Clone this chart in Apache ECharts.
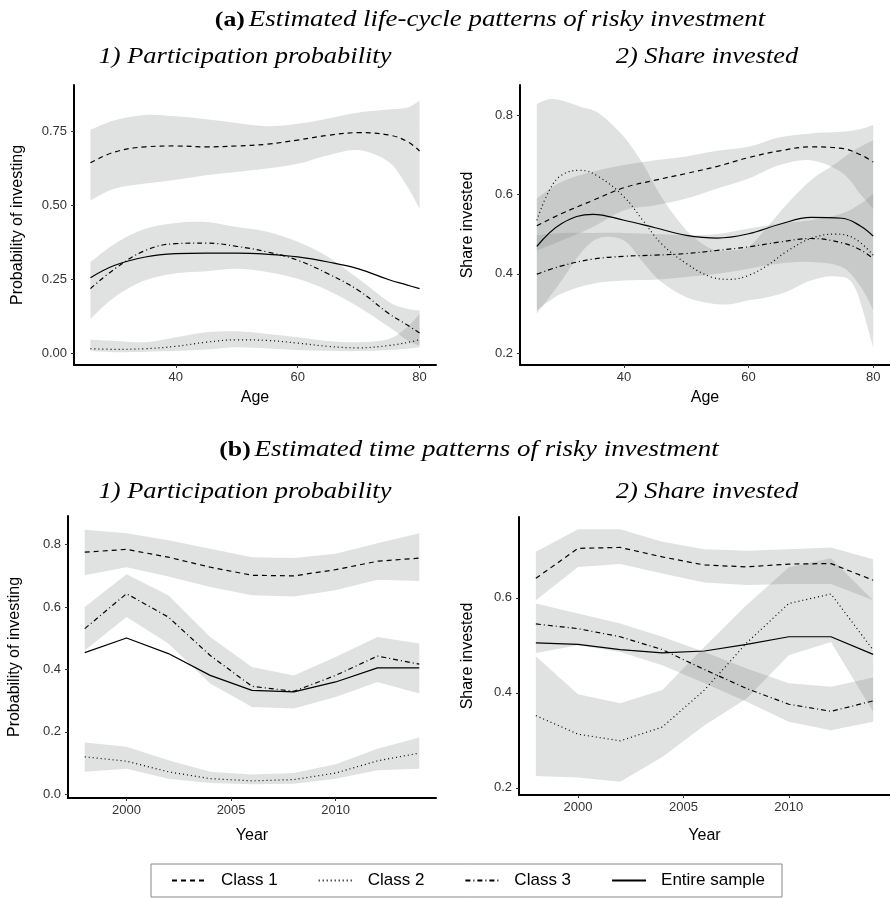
<!DOCTYPE html>
<html>
<head>
<meta charset="utf-8">
<script src="https://cdn.jsdelivr.net/npm/echarts@6/dist/echarts.min.js"></script>
<style>
html, body { margin: 0; padding: 0; background: #fff; }
#main { width: 890px; height: 898px; }
</style>
</head>
<body>
<div id="main"></div>
<script>
// (a) life-cycle patterns, x = age
var ageA = [26, 30, 35, 40, 45, 50, 55, 60, 65, 70, 75, 78, 80];

// 1) participation probability
var a1Class1 = [0.643, 0.68, 0.697, 0.70, 0.697, 0.70, 0.706, 0.72, 0.736, 0.745, 0.737, 0.715, 0.683];
var a1Class1Hi = [0.755, 0.787, 0.805, 0.80, 0.79, 0.778, 0.767, 0.775, 0.793, 0.813, 0.823, 0.83, 0.853];
var a1Class1Lo = [0.516, 0.556, 0.573, 0.586, 0.601, 0.612, 0.624, 0.64, 0.669, 0.686, 0.645, 0.562, 0.488];
var a1Class2 = [0.015, 0.013, 0.015, 0.023, 0.037, 0.045, 0.043, 0.034, 0.023, 0.018, 0.026, 0.036, 0.045];
var a1Class2Hi = [0.045, 0.041, 0.037, 0.054, 0.071, 0.074, 0.065, 0.054, 0.041, 0.037, 0.048, 0.088, 0.133];
var a1Class2Lo = [0.007, 0.003, 0.005, 0.007, 0.012, 0.02, 0.016, 0.011, 0.008, 0.007, 0.011, 0.015, 0.02];
var a1Class3 = [0.218, 0.285, 0.347, 0.37, 0.372, 0.361, 0.342, 0.314, 0.268, 0.212, 0.133, 0.095, 0.068];
var a1Class3Hi = [0.308, 0.37, 0.42, 0.44, 0.443, 0.426, 0.41, 0.376, 0.325, 0.251, 0.173, 0.15, 0.144];
var a1Class3Lo = [0.116, 0.19, 0.246, 0.27, 0.277, 0.285, 0.274, 0.251, 0.212, 0.156, 0.088, 0.043, 0.026];
var a1All = [0.255, 0.297, 0.325, 0.336, 0.338, 0.338, 0.334, 0.325, 0.308, 0.285, 0.248, 0.23, 0.218];

// 2) share invested
var a2Class1 = [0.521, 0.552, 0.585, 0.617, 0.636, 0.653, 0.671, 0.693, 0.71, 0.72, 0.716, 0.70, 0.682];
var a2Class1Hi = [0.59, 0.632, 0.657, 0.674, 0.686, 0.696, 0.71, 0.72, 0.744, 0.754, 0.758, 0.765, 0.775];
var a2Class1Lo = [0.459, 0.484, 0.518, 0.56, 0.573, 0.59, 0.615, 0.64, 0.674, 0.686, 0.655, 0.60, 0.564];
var a2Class3 = [0.399, 0.42, 0.437, 0.444, 0.447, 0.451, 0.459, 0.468, 0.48, 0.489, 0.478, 0.46, 0.438];
var a2Class3Hi = [0.497, 0.503, 0.503, 0.503, 0.50, 0.497, 0.50, 0.514, 0.527, 0.535, 0.552, 0.577, 0.602];
var a2Class3Lo = [0.308, 0.35, 0.375, 0.383, 0.385, 0.392, 0.40, 0.413, 0.426, 0.43, 0.417, 0.367, 0.308];
var a2All = [0.469, 0.527, 0.55, 0.535, 0.516, 0.497, 0.49, 0.501, 0.525, 0.542, 0.54, 0.52, 0.495];
var ageA2c2 = [26, 28, 30, 33, 36, 40, 43, 46, 50, 54, 57, 60, 63, 66, 70, 74, 77, 80];
var a2Class2 = [0.535, 0.61, 0.649, 0.661, 0.644, 0.594, 0.535, 0.476, 0.426, 0.392, 0.386, 0.396, 0.421, 0.455, 0.489, 0.50, 0.489, 0.447];
var a2Class2Hi = [0.828, 0.84, 0.837, 0.821, 0.804, 0.745, 0.678, 0.594, 0.51, 0.463, 0.459, 0.468, 0.518, 0.573, 0.636, 0.678, 0.712, 0.737];
var a2Class2Lo = [0.30, 0.341, 0.383, 0.451, 0.49, 0.484, 0.43, 0.379, 0.341, 0.325, 0.323, 0.333, 0.341, 0.354, 0.383, 0.393, 0.367, 0.215];

// (b) time patterns, x = year
var yearB = [1998, 2000, 2002, 2004, 2006, 2008, 2010, 2012, 2014];

var b1Class1 = [0.776, 0.785, 0.76, 0.728, 0.702, 0.70, 0.72, 0.747, 0.757];
var b1Class1Hi = [0.848, 0.837, 0.814, 0.787, 0.76, 0.757, 0.771, 0.805, 0.837];
var b1Class1Lo = [0.702, 0.728, 0.698, 0.664, 0.638, 0.634, 0.654, 0.688, 0.684];
var b1Class2 = [0.12, 0.106, 0.072, 0.05, 0.043, 0.047, 0.068, 0.107, 0.132];
var b1Class2Hi = [0.166, 0.152, 0.109, 0.072, 0.063, 0.068, 0.096, 0.146, 0.182];
var b1Class2Lo = [0.072, 0.082, 0.05, 0.036, 0.032, 0.034, 0.05, 0.077, 0.082];
var b1Class3 = [0.531, 0.643, 0.568, 0.445, 0.346, 0.33, 0.381, 0.443, 0.417];
var b1Class3Hi = [0.60, 0.705, 0.638, 0.504, 0.408, 0.381, 0.44, 0.504, 0.483];
var b1Class3Lo = [0.461, 0.568, 0.483, 0.355, 0.28, 0.275, 0.312, 0.36, 0.323];
var b1All = [0.454, 0.501, 0.451, 0.381, 0.333, 0.328, 0.36, 0.405, 0.405];

var b2Class1 = [0.641, 0.704, 0.706, 0.686, 0.669, 0.665, 0.671, 0.672, 0.637];
var b2Class1Hi = [0.697, 0.744, 0.744, 0.718, 0.702, 0.699, 0.702, 0.706, 0.681];
var b2Class1Lo = [0.595, 0.665, 0.671, 0.651, 0.632, 0.627, 0.629, 0.629, 0.595];
var b2Class2 = [0.352, 0.313, 0.299, 0.328, 0.406, 0.505, 0.588, 0.608, 0.49];
var b2Class2Hi = [0.477, 0.397, 0.378, 0.406, 0.497, 0.585, 0.664, 0.683, 0.595];
var b2Class2Lo = [0.225, 0.222, 0.213, 0.265, 0.332, 0.388, 0.479, 0.507, 0.36];
var b2Class3 = [0.545, 0.535, 0.518, 0.491, 0.449, 0.409, 0.376, 0.361, 0.383];
var b2Class3Hi = [0.588, 0.567, 0.546, 0.518, 0.486, 0.451, 0.42, 0.413, 0.432];
var b2Class3Lo = [0.484, 0.50, 0.486, 0.458, 0.42, 0.381, 0.339, 0.321, 0.339];
var b2All = [0.505, 0.502, 0.491, 0.484, 0.488, 0.502, 0.518, 0.518, 0.481];

var legendNames = ['Class 1', 'Class 2', 'Class 3', 'Entire sample'];
var ageTicks = [40, 60, 80];
var yearTicks = [2000, 2005, 2010];

var SANS = '"Liberation Sans", Arial, sans-serif';
var SERIF = '"Liberation Serif", serif';
var BAND = 'rgba(120,124,124,0.23)';
var dashes = {
    'Class 1': [5, 4],
    'Class 2': [1, 3],
    'Class 3': [5, 3, 1, 3],
    'Entire sample': 'solid'
};

function pairs(xs, ys) {
    return xs.map(function (x, i) { return [x, ys[i]]; });
}

// catmull-rom through pixel points, continuing an open path
function curveTo(pts) {
    var d = '';
    for (var i = 0; i < pts.length - 1; i++) {
        var p0 = pts[Math.max(i - 1, 0)], p1 = pts[i], p2 = pts[i + 1], p3 = pts[Math.min(i + 2, pts.length - 1)];
        var c1 = [p1[0] + (p2[0] - p0[0]) / 6, p1[1] + (p2[1] - p0[1]) / 6];
        var c2 = [p2[0] - (p3[0] - p1[0]) / 6, p2[1] - (p3[1] - p1[1]) / 6];
        d += ' C' + c1[0] + ',' + c1[1] + ' ' + c2[0] + ',' + c2[1] + ' ' + p2[0] + ',' + p2[1];
    }
    return d;
}

function lineTo(pts) {
    var d = '';
    for (var i = 1; i < pts.length; i++) d += ' L' + pts[i][0] + ',' + pts[i][1];
    return d;
}

var series = [];

function addBand(idx, xs, lo, hi, smooth) {
    var rows = xs.map(function (x, i) { return [x, lo[i], hi[i]]; });
    series.push({
        type: 'custom', xAxisIndex: idx, yAxisIndex: idx, silent: true, z: 1,
        data: rows,
        encode: { x: 0, y: [1, 2] },
        renderItem: function (params, api) {
            if (params.dataIndex !== 0) return null;
            var up = rows.map(function (r) { return api.coord([r[0], r[2]]); });
            var dn = rows.map(function (r) { return api.coord([r[0], r[1]]); }).reverse();
            var d = 'M' + up[0][0] + ',' + up[0][1];
            d += smooth ? curveTo(up) : lineTo(up);
            d += ' L' + dn[0][0] + ',' + dn[0][1];
            d += smooth ? curveTo(dn) : lineTo(dn);
            d += ' Z';
            return { type: 'path', shape: { pathData: d }, style: { fill: BAND, stroke: null } };
        }
    });
}

function addLine(idx, name, xs, ys, smooth) {
    series.push({
        name: name, type: 'line', xAxisIndex: idx, yAxisIndex: idx,
        data: pairs(xs, ys), symbol: 'none', smooth: smooth, z: 3,
        lineStyle: { color: '#000', width: 1.2, type: dashes[name] },
        itemStyle: { color: '#000' }
    });
}

// bands
addBand(0, ageA, a1Class1Lo, a1Class1Hi, true);
addBand(0, ageA, a1Class2Lo, a1Class2Hi, true);
addBand(0, ageA, a1Class3Lo, a1Class3Hi, true);
addBand(1, ageA, a2Class1Lo, a2Class1Hi, true);
addBand(1, ageA2c2, a2Class2Lo, a2Class2Hi, true);
addBand(1, ageA, a2Class3Lo, a2Class3Hi, true);
addBand(2, yearB, b1Class1Lo, b1Class1Hi, false);
addBand(2, yearB, b1Class2Lo, b1Class2Hi, false);
addBand(2, yearB, b1Class3Lo, b1Class3Hi, false);
addBand(3, yearB, b2Class1Lo, b2Class1Hi, false);
addBand(3, yearB, b2Class2Lo, b2Class2Hi, false);
addBand(3, yearB, b2Class3Lo, b2Class3Hi, false);

// lines
addLine(0, 'Class 1', ageA, a1Class1, 0.4);
addLine(0, 'Class 2', ageA, a1Class2, 0.4);
addLine(0, 'Class 3', ageA, a1Class3, 0.4);
addLine(0, 'Entire sample', ageA, a1All, 0.4);
addLine(1, 'Class 1', ageA, a2Class1, 0.4);
addLine(1, 'Class 2', ageA2c2, a2Class2, 0.4);
addLine(1, 'Class 3', ageA, a2Class3, 0.4);
addLine(1, 'Entire sample', ageA, a2All, 0.4);
addLine(2, 'Class 1', yearB, b1Class1, false);
addLine(2, 'Class 2', yearB, b1Class2, false);
addLine(2, 'Class 3', yearB, b1Class3, false);
addLine(2, 'Entire sample', yearB, b1All, false);
addLine(3, 'Class 1', yearB, b2Class1, false);
addLine(3, 'Class 2', yearB, b2Class2, false);
addLine(3, 'Class 3', yearB, b2Class3, false);
addLine(3, 'Entire sample', yearB, b2All, false);

function xAx(idx, min, max, ticks, name, gap) {
    return {
        type: 'value', gridIndex: idx, min: min, max: max,
        name: name, nameLocation: 'middle', nameGap: gap,
        nameTextStyle: { fontSize: 16, color: '#000', fontFamily: SANS },
        axisLine: { show: true, onZero: false, lineStyle: { color: '#000', width: 2 } },
        axisTick: { show: true, length: 3, customValues: ticks, lineStyle: { color: '#333' } },
        axisLabel: {
            customValues: ticks, fontSize: 13, color: '#333', margin: 6, fontFamily: SANS,
            formatter: function (v) { return String(v); }
        },
        splitLine: { show: false }
    };
}

function yAx(idx, min, max, ticks, digits, name, gap) {
    return {
        type: 'value', gridIndex: idx, min: min, max: max,
        name: name, nameLocation: 'middle', nameGap: gap, nameRotate: 90,
        nameTextStyle: { fontSize: 16, color: '#000', fontFamily: SANS },
        axisLine: { show: true, onZero: false, lineStyle: { color: '#000', width: 2 } },
        axisTick: { show: true, length: 3, customValues: ticks, lineStyle: { color: '#333' } },
        axisLabel: {
            customValues: ticks, fontSize: 13, color: '#333', margin: 7, fontFamily: SANS,
            formatter: function (v) { return v.toFixed(digits); }
        },
        splitLine: { show: false }
    };
}

function titleText(x, y, letter, text) {
    return {
        type: 'text', x: x, y: y, scaleX: 1.17,
        style: {
            text: '{b|(' + letter + ')} {i|' + text + '}',
            align: 'center', verticalAlign: 'middle',
            rich: {
                b: { font: 'bold 22px ' + SERIF, fill: '#000' },
                i: { font: 'italic 23px ' + SERIF, fill: '#000' }
            }
        }
    };
}

function subText(x, y, text) {
    return {
        type: 'text', x: x, y: y, scaleX: 1.15,
        style: { text: text, font: 'italic 23px ' + SERIF, fill: '#000', align: 'center', verticalAlign: 'middle' }
    };
}

var option = {
    animation: false,
    backgroundColor: '#fff',
    grid: [
        { left: 74, top: 85, width: 362, height: 280 },
        { left: 520, top: 85, width: 370, height: 280 },
        { left: 68, top: 516, width: 368, height: 282 },
        { left: 519, top: 517, width: 371, height: 278 }
    ],
    xAxis: [
        xAx(0, 23.3, 82.7, ageTicks, 'Age', 25),
        xAx(1, 23.3, 82.7, ageTicks, 'Age', 25),
        xAx(2, 1997.2, 2014.8, yearTicks, 'Year', 30),
        xAx(3, 1997.2, 2014.8, yearTicks, 'Year', 33)
    ],
    yAxis: [
        yAx(0, -0.04, 0.906, [0, 0.25, 0.5, 0.75], 2, 'Probability of investing', 48),
        yAx(1, 0.17, 0.876, [0.2, 0.4, 0.6, 0.8], 1, 'Share invested', 44),
        yAx(2, -0.012, 0.892, [0, 0.2, 0.4, 0.6, 0.8], 1, 'Probability of investing', 45),
        yAx(3, 0.185, 0.77, [0.2, 0.4, 0.6], 1, 'Share invested', 43)
    ],
    legend: {
        data: legendNames,
        left: 151, top: 864,
        orient: 'horizontal',
        itemWidth: 34, itemHeight: 14, itemGap: 40,
        padding: [8, 17, 8, 20],
        borderColor: '#888', borderWidth: 1,
        selectedMode: false,
        itemStyle: { opacity: 0 },
        textStyle: { fontSize: 17, color: '#000', fontFamily: SANS, padding: [0, 0, 0, 10] }
    },
    graphic: [
        titleText(490, 20, 'a', 'Estimated life-cycle patterns of risky investment'),
        subText(245, 57, '1) Participation probability'),
        subText(707, 57, '2) Share invested'),
        titleText(469, 450, 'b', 'Estimated time patterns of risky investment'),
        subText(245, 492, '1) Participation probability'),
        subText(707, 492, '2) Share invested')
    ],
    series: series
};

var chart = echarts.init(document.getElementById('main'));
chart.setOption(option);
</script>
</body>
</html>
